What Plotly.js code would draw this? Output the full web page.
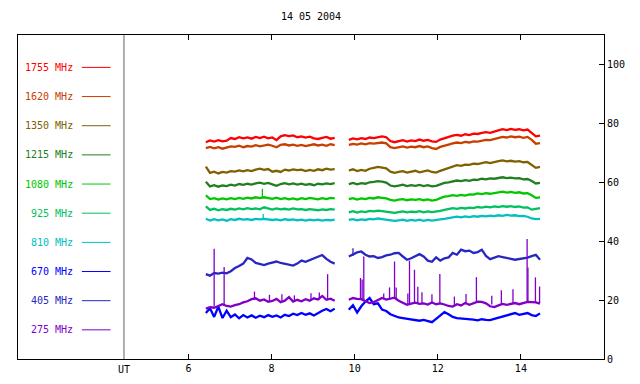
<!DOCTYPE html>
<html>
<head>
<meta charset="utf-8">
<script src="https://cdn.plot.ly/plotly-3.0.1.min.js"></script>
<style>html,body{margin:0;padding:0;background:#fff;}#chart{width:640px;height:384px;}</style>
</head>
<body>
<div id="chart"></div>
<script>
// Title and tick labels
const chartTitle = "14 05 2004";
const xTickVals = [6, 8, 10, 12, 14];
const utLabel = "UT";
const utPosition = 4.45;

// Frequencies (legend order, top to bottom)
const freqLabels = ["1755 MHz", "1620 MHz", "1350 MHz", "1215 MHz", "1080 MHz",
                    "925 MHz", "810 MHz", "670 MHz", "405 MHz", "275 MHz"];
const freqColors = ["#ff0000", "#c84000", "#806000", "#208020", "#00c800",
                    "#00c060", "#00c0c0", "#0000ff", "#2828c0", "#8000c8"];

// Sampling of the two observation segments (hours UT)
const segAStart = 6.42, segBStart = 9.86, sampleStep = 0.1;

// Segment A values (6.42 .. 9.52 UT)
const f1755_a = [73.6,74.2,73.8,74.3,73.9,74.1,75.0,74.7,75.3,74.9,75.2,74.8,75.4,75.0,75.5,74.9,75.2,74.3,75.6,76.0,75.7,75.9,75.3,75.6,75.2,75.5,74.9,74.7,75.1,75.4,74.8,75.1];
const f1620_a = [71.6,72.0,71.5,71.9,71.4,71.8,72.2,72.0,72.4,71.9,72.3,72.1,72.6,72.2,72.5,72.8,72.4,71.9,72.7,72.9,72.5,72.8,72.4,72.7,72.3,72.6,72.9,72.5,72.8,72.4,72.9,72.6];
const f1350_a = [65.3,63.2,63.6,63.0,63.5,63.3,63.8,63.6,64.0,63.7,64.1,63.8,64.3,64.6,64.2,64.5,63.6,63.9,63.5,64.3,64.0,64.4,64.1,64.3,63.8,64.2,63.9,64.4,64.1,64.6,64.3,64.5];
const f1215_a = [60.2,58.6,59.0,58.5,58.9,58.7,59.2,58.9,59.4,59.1,59.5,59.2,59.6,59.9,59.5,59.8,59.3,58.8,59.4,59.7,59.3,59.6,59.2,59.5,59.1,59.4,59.0,59.5,59.3,59.6,59.4,59.7];
const f1080_a = [55.6,54.3,54.6,54.1,54.5,54.2,54.6,54.3,54.7,54.4,54.8,54.5,54.9,54.6,54.9,54.7,54.4,54.8,54.3,54.6,54.2,54.5,54.1,54.6,54.3,54.7,54.4,54.2,54.6,54.3,54.7,54.5];
const f925_a  = [51.8,50.6,51.0,50.5,50.9,50.6,51.0,50.7,51.1,50.8,51.2,50.9,51.1,50.8,51.5,51.0,50.7,51.1,50.8,51.0,50.7,51.1,50.8,50.9,50.6,50.9,50.7,50.5,50.8,50.6,50.9,50.7];
const f810_a  = [47.6,47.0,47.5,47.1,47.4,46.9,47.5,47.2,47.6,47.3,47.5,47.2,47.6,47.4,47.6,47.5,47.2,47.4,47.1,47.5,47.2,47.4,47.1,47.3,47.0,47.3,47.1,47.3,47.0,47.2,47.1,47.3];
const f670_a  = [15.6,17.2,14.3,17.8,13.9,16.4,14.2,15.1,13.8,14.9,14.1,14.8,14.0,14.7,14.2,14.9,14.3,14.8,14.1,15.0,14.6,15.4,14.9,15.6,15.0,15.5,14.8,15.7,16.4,17.0,16.2,17.1];
const f405_a  = [28.8,28.3,29.2,29.0,29.3,29.1,29.8,30.9,31.6,32.4,34.3,33.8,32.6,32.2,31.9,32.4,32.8,33.1,32.6,32.3,31.9,31.7,32.4,33.4,33.0,33.6,34.2,34.9,35.3,34.0,33.0,32.4];
const f275_a  = [17.1,17.6,17.4,17.9,18.6,18.0,17.8,18.3,18.6,19.2,19.6,20.3,20.6,19.8,20.2,19.4,19.7,20.4,19.3,19.8,21.0,19.5,20.1,19.6,20.3,19.8,20.6,20.2,21.4,20.1,20.5,19.8];

// Segment B values (9.86 .. 14.46 UT)
const f1755_b = [74.4,74.9,74.6,75.0,74.7,75.2,75.0,75.4,75.6,75.3,74.0,73.6,73.9,74.3,73.8,74.2,74.0,74.5,74.1,74.4,73.9,73.7,74.5,75.0,75.3,75.8,76.1,75.8,76.3,76.0,76.5,76.4,76.8,77.0,76.8,77.3,77.6,78.0,77.7,78.1,77.8,78.0,77.6,77.9,76.8,75.6,75.8];
const f1620_b = [72.7,73.0,72.8,73.2,72.9,73.3,73.1,73.4,73.5,73.2,71.9,71.6,71.9,72.2,71.8,72.1,71.9,72.3,71.9,72.2,71.6,71.3,72.0,72.5,72.8,73.2,73.5,73.3,73.7,73.5,73.9,73.8,74.2,74.4,74.3,74.7,75.0,75.4,75.2,75.6,75.3,75.5,75.1,75.4,74.4,73.1,73.3];
const f1350_b = [64.0,64.4,63.8,64.2,63.9,64.6,64.9,65.2,65.0,64.7,63.6,63.2,63.5,63.8,63.3,63.7,63.9,63.4,63.8,64.0,63.5,63.3,63.9,64.4,65.0,65.4,65.8,65.6,66.0,65.9,66.3,66.2,66.6,66.8,66.5,66.9,67.2,67.4,67.1,67.3,67.0,67.2,66.8,66.9,65.9,64.9,65.2];
const f1215_b = [59.4,59.8,59.3,59.7,59.5,60.0,60.1,60.4,60.2,59.9,58.9,58.6,58.9,59.2,58.7,59.0,58.8,59.1,58.7,59.0,58.6,58.8,59.3,59.8,60.0,60.3,60.6,60.4,60.7,60.5,60.9,60.8,61.2,61.0,61.3,61.2,61.5,61.7,61.4,61.6,61.3,61.4,61.0,61.1,60.4,59.6,59.8];
const f1080_b = [54.3,54.6,54.1,54.5,54.3,54.7,54.5,54.9,54.7,54.5,54.0,53.8,54.1,54.3,53.9,54.2,54.0,54.3,53.9,54.2,53.8,54.0,54.6,55.1,55.3,55.6,55.4,55.7,55.5,55.9,55.8,56.2,56.0,56.3,56.1,56.4,56.6,56.8,56.5,56.7,56.4,56.6,56.2,56.3,55.6,54.7,54.9];
const f925_b  = [49.8,50.2,49.7,50.1,49.9,50.3,50.1,50.4,50.2,50.0,49.8,49.6,49.9,50.1,49.8,50.0,49.9,50.2,49.8,50.1,49.9,50.0,50.3,50.6,50.9,51.2,51.0,51.3,51.1,51.4,51.2,51.6,51.4,51.7,51.5,51.8,51.6,51.9,51.7,51.9,51.6,51.8,51.4,51.5,50.7,51.0,51.2];
const f810_b  = [47.2,47.5,47.1,47.4,47.2,47.6,47.4,47.7,47.5,47.3,47.1,46.9,47.1,47.3,46.9,47.2,47.0,47.3,46.9,47.2,47.0,47.1,47.4,47.6,47.8,48.0,48.3,48.1,48.4,48.2,48.5,48.3,48.6,48.4,48.7,48.5,48.8,48.6,48.9,48.7,48.8,48.5,48.6,48.3,47.7,47.5,47.6];
const f670_b  = [16.7,18.3,15.8,17.9,19.5,20.7,18.6,18.9,16.8,16.3,15.2,14.6,14.1,13.9,13.7,13.4,13.2,13.0,13.3,12.9,12.5,13.6,14.6,15.9,15.2,14.3,13.9,13.8,13.6,13.5,13.4,13.1,13.5,13.3,13.2,13.6,14.0,14.4,15.0,15.4,15.6,15.0,15.3,15.6,14.9,14.6,15.5];
const f405_b  = [34.8,35.6,36.2,36.5,35.4,34.8,34.9,34.3,34.6,35.2,35.4,35.9,36.0,34.8,33.7,34.2,34.9,35.6,34.8,33.4,33.0,34.5,33.4,34.2,34.5,36.0,35.4,37.1,36.6,36.8,36.0,36.3,37.1,35.0,33.9,34.5,34.9,34.6,34.4,34.0,33.7,33.9,34.3,34.4,34.9,35.4,33.7];
const f275_b  = [20.1,20.7,20.4,20.3,19.6,19.0,19.3,20.0,20.7,20.2,20.5,20.8,19.8,19.0,18.4,18.8,19.1,18.7,18.9,18.5,19.2,18.6,18.9,18.5,18.0,17.8,18.6,18.2,19.0,18.4,18.9,19.5,19.4,18.9,17.9,17.6,18.2,18.7,18.4,18.7,19.0,18.6,19.1,19.4,19.3,19.2,18.8];

// Short bursts (narrow spikes): frequency index, time (UT), foot value, peak value
const burstFreq = [4, 6, 8, 9, 9, 9, 9, 9, 9, 9, 9, 9, 9, 9, 9, 9, 9, 9, 9, 9, 9, 9, 9, 9,
                   9, 9, 9, 9, 9, 9, 9, 9, 9, 9, 9, 9];
const burstTime = [7.78, 7.80, 9.96, 6.62, 6.86, 7.59, 9.35, 10.14, 10.18, 10.22, 10.70, 10.96, 11.00, 11.32, 11.44, 11.52, 12.05, 12.93, 13.53, 13.81, 14.15, 14.17, 14.35, 14.45,
                   7.95, 8.25, 8.55, 8.95, 9.15, 10.84, 11.28, 11.62, 11.86, 12.40, 12.68, 13.30];
const burstFoot = [54.8, 47.5, 35.0, 17.8, 18.0, 20.0, 20.2, 20.3, 20.2, 20.0, 20.4, 20.6, 20.2, 18.7, 18.9, 18.8, 18.8, 19.3, 18.6, 18.9, 19.3, 19.3, 19.2, 19.0,
                   19.5, 19.8, 19.6, 19.9, 20.2, 20.4, 18.6, 18.8, 18.9, 18.2, 18.9, 18.5];
const burstPeak = [57.8, 49.2, 37.6, 37.4, 31.2, 22.9, 28.8, 27.5, 27.0, 34.8, 22.2, 33.1, 24.3, 33.4, 30.3, 24.5, 28.9, 27.8, 23.3, 23.7, 40.7, 31.1, 27.7, 24.6,
                   21.8, 22.0, 21.6, 22.3, 22.6, 24.3, 22.2, 22.7, 22.0, 21.2, 22.1, 21.5];

const segA = [f1755_a, f1620_a, f1350_a, f1215_a, f1080_a, f925_a, f810_a, f670_a, f405_a, f275_a];
const segB = [f1755_b, f1620_b, f1350_b, f1215_b, f1080_b, f925_b, f810_b, f670_b, f405_b, f275_b];

const FONT = "DejaVu Sans Mono, Liberation Mono, monospace";
const traces = [];
freqLabels.forEach((lab, i) => {
  [[segA[i], segAStart], [segB[i], segBStart]].forEach(([vals, x0]) => {
    traces.push({
      type: "scatter", mode: "lines", y: vals, x0: x0, dx: sampleStep,
      line: {color: freqColors[i], width: 2.3}, showlegend: false, hoverinfo: "skip"
    });
  });
  const bx = [], by = [];
  burstFreq.forEach((f, j) => {
    if (f === i) { bx.push(burstTime[j], burstTime[j], null); by.push(burstFoot[j], burstPeak[j], null); }
  });
  if (bx.length) {
    traces.push({
      type: "scatter", mode: "lines", x: bx, y: by, connectgaps: false,
      line: {color: freqColors[i], width: 1.3}, showlegend: false, hoverinfo: "skip"
    });
  }
});

const annotations = [];
const shapes = [];
const nRows = freqLabels.length;
freqLabels.forEach((lab, i) => {
  const yy = 0.09 * (nRows - i);
  annotations.push({
    xref: "paper", yref: "paper", x: 0.0973, y: yy, xanchor: "right", yanchor: "middle",
    text: lab, showarrow: false, font: {family: FONT, size: 10, color: freqColors[i]}
  });
  shapes.push({
    type: "line", xref: "paper", yref: "paper", x0: 0.109, x1: 0.158, y0: yy, y1: yy,
    line: {color: freqColors[i], width: 1}
  });
});
annotations.push({
  xref: "x", yref: "paper", x: utPosition, y: 0, xanchor: "center", yanchor: "top", yshift: -3,
  text: utLabel, showarrow: false, font: {family: FONT, size: 10, color: "#000"}
});
shapes.push({
  type: "line", xref: "x", yref: "paper", x0: utPosition, x1: utPosition, y0: 0, y1: 1,
  line: {color: "#606060", width: 1}
});

const layout = {
  width: 640, height: 384,
  margin: {l: 18, r: 36, t: 35, b: 25, pad: 0},
  paper_bgcolor: "#ffffff", plot_bgcolor: "#ffffff",
  font: {family: FONT, size: 10, color: "#000"},
  title: {text: chartTitle, x: 0.5, xref: "paper", xanchor: "center", y: 0.956, yref: "container", yanchor: "middle",
          font: {family: FONT, size: 10, color: "#000"}},
  showlegend: false,
  xaxis: {range: [1.9, 16], tickvals: xTickVals, ticks: "inside", ticklen: 5, tickcolor: "#000",
          showline: true, linecolor: "#000", linewidth: 1, mirror: "ticks",
          showgrid: false, zeroline: false, tickfont: {family: FONT, size: 10, color: "#000"}},
  yaxis: {range: [0, 110], side: "right", tick0: 0, dtick: 20, ticks: "inside", ticklen: 5, tickcolor: "#000",
          showline: true, linecolor: "#000", linewidth: 1, mirror: true,
          showgrid: false, zeroline: false, tickfont: {family: FONT, size: 10, color: "#000"}},
  annotations: annotations,
  shapes: shapes
};

Plotly.newPlot("chart", traces, layout, {staticPlot: true, displayModeBar: false});
</script>
</body>
</html>
